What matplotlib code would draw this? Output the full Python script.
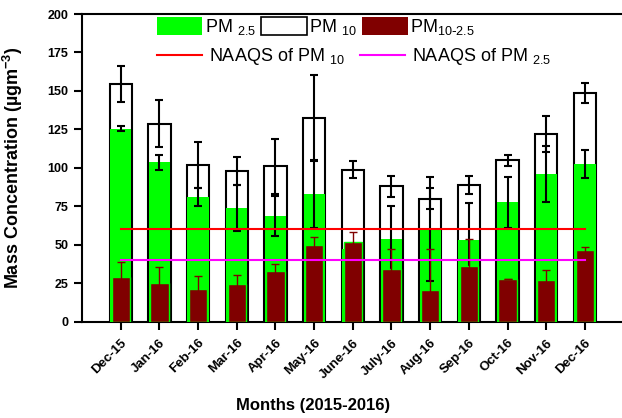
import matplotlib
matplotlib.use('agg')
import matplotlib.pyplot as plt
from matplotlib.patches import Patch
from matplotlib.lines import Line2D
import numpy as np

plt.rcParams['font.family'] = ['Liberation Sans', 'DejaVu Sans']
plt.rcParams['mathtext.default'] = 'regular'

# данные
months = ['Dec-15', 'Jan-16', 'Feb-16', 'Mar-16', 'Apr-16', 'May-16', 'June-16',
          'July-16', 'Aug-16', 'Sep-16', 'Oct-16', 'Nov-16', 'Dec-16']
pm10 = [154.5, 128.8, 101.7, 98.0, 100.9, 132.2, 98.7, 87.9, 80.0, 89.0, 105.0, 121.9, 148.5]
pm10_err = [11.5, 15.5, 15.0, 9.0, 17.7, 28.0, 5.5, 7.0, 6.7, 5.7, 3.5, 11.5, 6.5]
pm25 = [125.5, 103.5, 81.0, 73.8, 68.8, 83.0, 47.2, 53.9, 60.2, 53.3, 77.7, 96.1, 102.4]
pm25_err = [1.5, 5.0, 6.0, 15.0, 13.0, 22.0, 0.0, 21.0, 34.0, 23.8, 16.5, 18.0, 9.0]
pmc = [29.0, 25.0, 21.4, 24.7, 32.9, 50.0, 52.1, 34.2, 20.3, 35.9, 27.7, 27.3, 46.8]
pmc_err = [10.0, 10.5, 8.6, 5.5, 4.5, 5.0, 6.5, 13.0, 27.0, 17.8, 0.0, 6.0, 2.0]
naaqs_pm10 = 60
naaqs_pm25 = 40

green = '#00ff00'
dred = '#800000'

x = np.arange(len(months))

fig = plt.figure(figsize=(6.22, 4.18), dpi=100)
ax = fig.add_axes([0.132, 0.2304, 0.868, 0.7361])

# PM10 - белые столбцы
ax.bar(x, pm10, width=0.58, color='white', edgecolor='black', lw=1.5, zorder=2)
ax.errorbar(x, pm10, yerr=pm10_err, fmt='none', ecolor='black', elinewidth=1.5,
            capsize=3, capthick=1.5, zorder=3)
# PM2.5 - зелёные
ax.bar(x, pm25, width=0.55, color=green, lw=0, zorder=4)
ax.errorbar(x, pm25, yerr=pm25_err, fmt='none', ecolor='black', elinewidth=1.5,
            capsize=3, capthick=1.5, zorder=5)
# PM10-2.5 - тёмно-красные
ax.bar(x, pmc, width=0.47, color=dred, edgecolor=green, lw=1, zorder=6)
ax.errorbar(x, pmc, yerr=pmc_err, fmt='none', ecolor=dred, elinewidth=1,
            capsize=3, capthick=1, zorder=7)

# нормативы NAAQS
ax.plot([x[0], x[-1]], [naaqs_pm10] * 2, color='red', lw=1.5, zorder=8)
ax.plot([x[0], x[-1]], [naaqs_pm25] * 2, color='#ff00ff', lw=1.5, zorder=8)

ax.set_xlim(-1, 12.96)
ax.set_ylim(0, 200)
ax.set_yticks(range(0, 201, 25))
ax.set_xticks(x)
ax.set_xticklabels(months, rotation=45, ha='right', rotation_mode='anchor')
for lab in ax.get_xticklabels():
    lab.set_fontweight('bold')
    lab.set_fontsize(9.5)
for lab in ax.get_yticklabels():
    lab.set_fontweight('bold')
    lab.set_fontsize(9)
ax.tick_params(direction='out', length=6, width=1.5)
ax.tick_params(axis='y', pad=4)
ax.tick_params(axis='x', pad=5)
ax.spines['right'].set_visible(False)
for s in ('left', 'bottom', 'top'):
    ax.spines[s].set_linewidth(1.5)

ax.set_ylabel('Mass Concentration (\u00b5gm$^{-3}$)', fontsize=13, fontweight='bold')
ax.yaxis.set_label_coords(-0.105, 0.5)
fig.text(0.503, 0.03, 'Months (2015-2016)', ha='center', va='center',
         fontsize=12, fontweight='bold')

# легенда
bar_handles = [Patch(facecolor=green), Patch(facecolor='white', edgecolor='black', lw=1.2),
               Patch(facecolor=dred)]
bar_labels = ['PM $_{2.5}$', 'PM $_{10}$', 'PM$_{10\\text{-}2.5}$']
fig.legend(bar_handles, bar_labels, loc='upper left', ncol=3, frameon=False,
           bbox_to_anchor=(157 / 622, 1 - 17 / 418), fontsize=13,
           handlelength=2.5, handleheight=1.1, handletextpad=0.15,
           columnspacing=0.3, borderpad=0, borderaxespad=0)
line_handles = [Line2D([], [], color='red', lw=1.5), Line2D([], [], color='#ff00ff', lw=1.5)]
line_labels = ['NAAQS of PM $_{10}$', 'NAAQS of PM $_{2.5}$']
fig.legend(line_handles, line_labels, loc='upper left', ncol=2, frameon=False,
           bbox_to_anchor=(157 / 622, 1 - 46 / 418), fontsize=13,
           handlelength=2.5, handletextpad=0.4, columnspacing=0.8,
           borderpad=0, borderaxespad=0)

plt.savefig('out.png', dpi=100)
